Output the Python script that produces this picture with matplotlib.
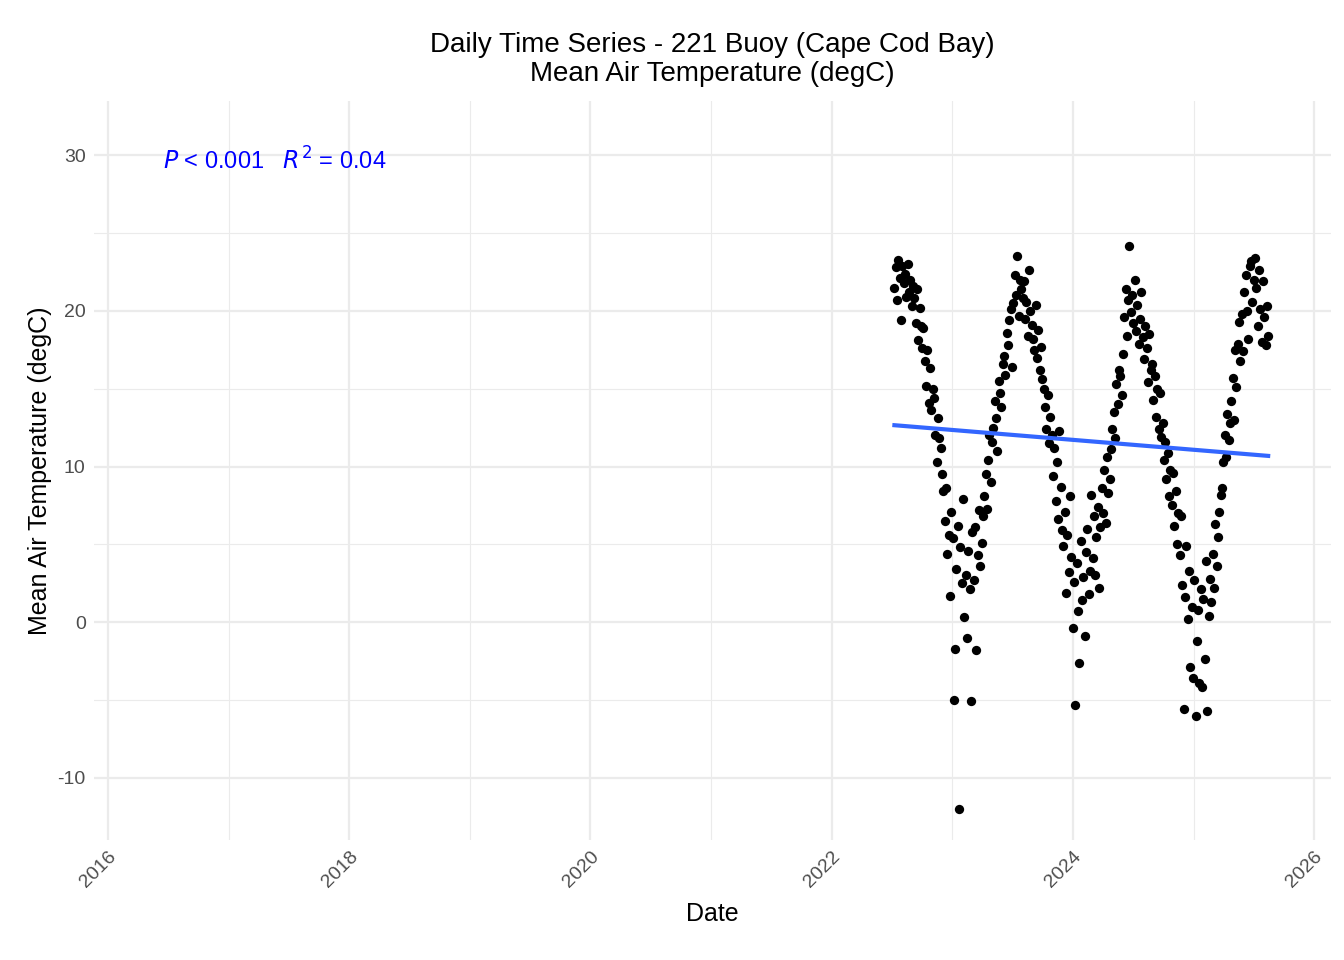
import numpy as np
import pandas as pd
import matplotlib
matplotlib.use("Agg")
import matplotlib.pyplot as plt
import matplotlib.dates as mdates

plt.rcParams['font.family'] = ['Liberation Sans', 'DejaVu Sans']
plt.rcParams['axes.unicode_minus'] = False

# mean daily air temperature (degC), every 4 days from 2022-07-10
temps = [
    21.5, 22.8, 20.7, 23.3, 22.1, 19.4, 22.9, 21.8,
    22.4, 20.9, 23.0, 21.2, 22.0, 20.3, 21.6,
    20.8, 19.2, 21.4, 18.1, 20.2, 19.0, 17.6, 18.9,
    16.8, 15.2, 17.5, 14.1, 16.3, 13.6, 15.0,
    14.4, 12.0, 10.3, 13.1, 11.8, 11.2, 9.5, 8.4,
    6.5, 8.6, 4.4, 5.6, 1.7, 7.1, 5.4,
    -5.0, -1.7, 3.4, 6.2, -12.0, 4.8, 2.5, 7.9,
    0.3, 3.0, -1.0, 4.6, 2.1, -5.1, 5.8,
    2.7, 6.1, -1.8, 4.3, 7.2, 3.6, 5.1, 6.8,
    8.1, 9.5, 7.3, 10.4, 12.0, 9.0, 11.6,
    12.5, 14.2, 13.1, 11.0, 15.5, 14.7, 13.8, 16.6,
    17.1, 15.9, 18.6, 17.8, 19.4, 20.1, 16.4,
    20.5, 22.3, 21.0, 23.5, 19.7, 22.0, 21.4, 20.8,
    21.9, 19.5, 20.6, 18.4, 22.6, 20.0, 19.1,
    18.2, 17.5, 20.4, 17.0, 18.8, 16.2, 17.7, 15.6,
    15.0, 13.8, 12.4, 14.6, 11.5, 13.2, 12.0,
    9.4, 11.2, 7.8, 10.3, 6.6, 12.3, 8.7, 5.9,
    4.9, 7.1, 1.9, 5.6, 3.2, 8.1, 4.2,
    -0.4, 2.6, -5.3, 3.8, 0.7, -2.6, 5.2, 1.4,
    2.9, -0.9, 4.5, 6.0, 1.8, 3.3, 8.2,
    4.1, 6.8, 3.0, 5.5, 7.4, 2.2, 6.1, 8.6,
    7.0, 9.8, 6.4, 10.6, 8.3, 9.2, 11.1,
    12.4, 13.5, 11.8, 15.3, 14.0, 16.2, 15.8, 14.6,
    17.2, 19.6, 21.4, 18.4, 20.7, 24.2, 19.9,
    21.0, 19.2, 22.0, 18.7, 20.4, 17.9, 19.5, 21.2,
    18.3, 16.9, 19.0, 17.6, 15.4, 18.5, 16.2,
    16.6, 14.3, 15.8, 13.2, 15.0, 12.4, 14.7, 11.9,
    12.8, 10.4, 11.6, 9.2, 10.9, 8.1, 9.8,
    7.5, 9.6, 6.2, 8.4, 5.0, 7.0, 4.3, 6.8,
    2.4, -5.6, 1.6, 4.9, 0.2, 3.3, -2.9,
    1.0, -3.6, 2.7, -6.0, -1.2, 0.8, -3.9, 2.1,
    -4.2, 1.5, -2.4, 3.9, -5.7, 0.4, 2.8,
    1.3, 4.4, 2.2, 6.3, 3.6, 5.5, 7.1, 8.2,
    8.6, 10.3, 12.0, 10.6, 13.4, 11.7, 12.8,
    14.2, 15.7, 13.0, 17.5, 15.1, 17.9, 19.3, 16.8,
    19.8, 17.4, 21.2, 22.3, 20.0, 18.2, 22.9,
    23.2, 20.6, 22.0, 23.4, 21.5, 19.0, 22.6, 20.1,
    18.0, 21.9, 19.6, 17.8, 20.3, 18.4,
]
dates = pd.date_range("2022-07-10", periods=len(temps), freq="4D")
temps = np.array(temps)

xnum = mdates.date2num(dates)
slope, icpt = np.polyfit(xnum, temps, 1)

fig, ax = plt.subplots(figsize=(13.44, 9.6), dpi=100)
fig.subplots_adjust(left=0.07, right=0.99, top=0.895, bottom=0.125)

ax.scatter(dates, temps, s=45, color='black', zorder=3, linewidths=0)
xl = np.array([xnum.min(), xnum.max()])
ax.plot(mdates.num2date(xl), slope * xl + icpt, color='#3366FF', lw=3, zorder=4)

ax.set_xlim(pd.Timestamp("2015-11-20"), pd.Timestamp("2026-02-20"))
ax.set_ylim(-14, 33.5)
ax.xaxis.set_major_locator(mdates.YearLocator(2))
ax.xaxis.set_minor_locator(mdates.YearLocator(1))
ax.xaxis.set_major_formatter(mdates.DateFormatter("%Y"))
ax.set_yticks([-10, 0, 10, 20, 30])
ax.set_yticks([-5, 5, 15, 25], minor=True)
ax.grid(which='major', color='#EBEBEB', lw=1.6)
ax.grid(which='minor', color='#EBEBEB', lw=0.8)
ax.set_axisbelow(True)
for s in ax.spines.values():
    s.set_visible(False)
ax.tick_params(which='both', length=0, labelsize=14, colors='#4D4D4D', pad=6)
plt.setp(ax.get_xticklabels(), rotation=45, ha='right', rotation_mode='anchor')

ax.set_xlabel("Date", fontsize=18, labelpad=8)
ax.set_ylabel("Mean Air Temperature (degC)", fontsize=18)
ax.set_title("Daily Time Series - 221 Buoy (Cape Cod Bay)\nMean Air Temperature (degC)",
             fontsize=20, linespacing=1.15, pad=14)
ax.text(pd.Timestamp("2016-06-15"), 29.6, r"$P$ < 0.001   $R^2$ = 0.04",
        color='blue', fontsize=17, va='center')

fig.savefig("out.png")
